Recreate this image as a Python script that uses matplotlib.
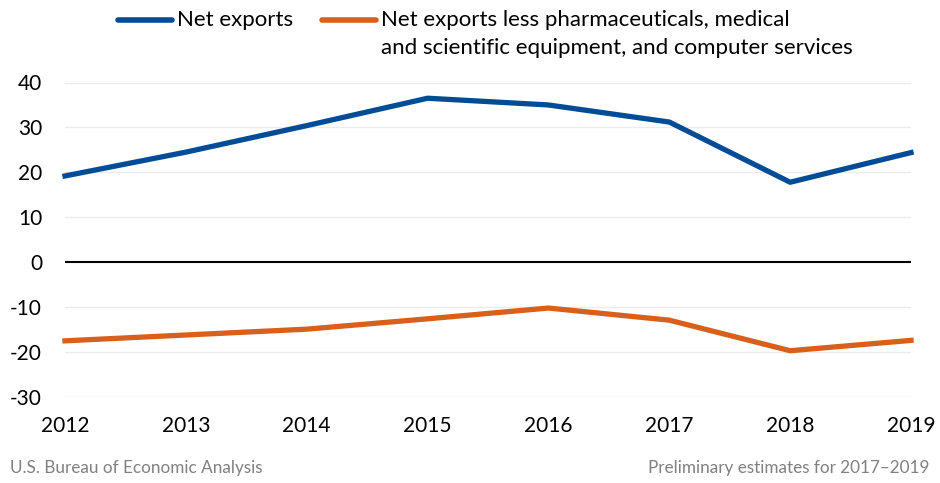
import matplotlib.pyplot as plt
from matplotlib.lines import Line2D

plt.rcParams['font.family'] = ['Lato', 'DejaVu Sans']
plt.rcParams['axes.unicode_minus'] = False

years = [2012, 2013, 2014, 2015, 2016, 2017, 2018, 2019]
net_exports = [19.2, 24.5, 30.4, 36.5, 35.0, 31.2, 17.8, 24.4]
net_exports_less = [-17.5, -16.2, -14.9, -12.6, -10.2, -12.9, -19.7, -17.4]
yticks = [-30, -20, -10, 0, 10, 20, 30, 40]

blue = '#004c97'
orange = '#d9601a'

fig = plt.figure(figsize=(9.4, 4.83), dpi=100)
ax = fig.add_axes([65 / 940, 86 / 483, 846 / 940, 314.5 / 483])

for y in yticks:
    if y != 0:
        ax.axhline(y, color='#ececec', linewidth=1, zorder=0)
ax.axhline(0, color='black', linewidth=1.5, zorder=1)

ax.plot(years, net_exports, color=blue, linewidth=3.8, clip_on=False, zorder=3)
ax.plot(years, net_exports_less, color=orange, linewidth=3.8, clip_on=False, zorder=3)

ax.set_xlim(years[0], years[-1])
ax.set_ylim(-30, 40)
ax.set_yticks(yticks)
ax.set_xticks(years)
ax.tick_params(length=0, labelsize=15)
ax.tick_params(axis='y', pad=16.5)
ax.tick_params(axis='x', pad=14)
for s in ax.spines.values():
    s.set_visible(False)

# legend drawn by hand so the marker sits on the first text line
fig.add_artist(Line2D([118 / 940, 172 / 940], [1 - 20 / 483, 1 - 20 / 483],
                      color=blue, linewidth=4, solid_capstyle='round'))
fig.text(177 / 940, 1 - 20 / 483, 'Net exports', fontsize=16, va='center')
fig.add_artist(Line2D([322 / 940, 376 / 940], [1 - 20 / 483, 1 - 20 / 483],
                      color=orange, linewidth=4, solid_capstyle='round'))
fig.text(381 / 940, 1 - 20 / 483, 'Net exports less pharmaceuticals, medical', fontsize=16, va='center')
fig.text(381 / 940, 1 - 48 / 483, 'and scientific equipment, and computer services', fontsize=16, va='center')

fig.text(10 / 940, 1 - 468 / 483, 'U.S. Bureau of Economic Analysis', fontsize=12.3,
         color='#808080', va='center')
fig.text(930 / 940, 1 - 468 / 483, 'Preliminary estimates for 2017\u20132019', fontsize=12.3,
         color='#808080', va='center', ha='right')

fig.savefig('out.png', dpi=100)
